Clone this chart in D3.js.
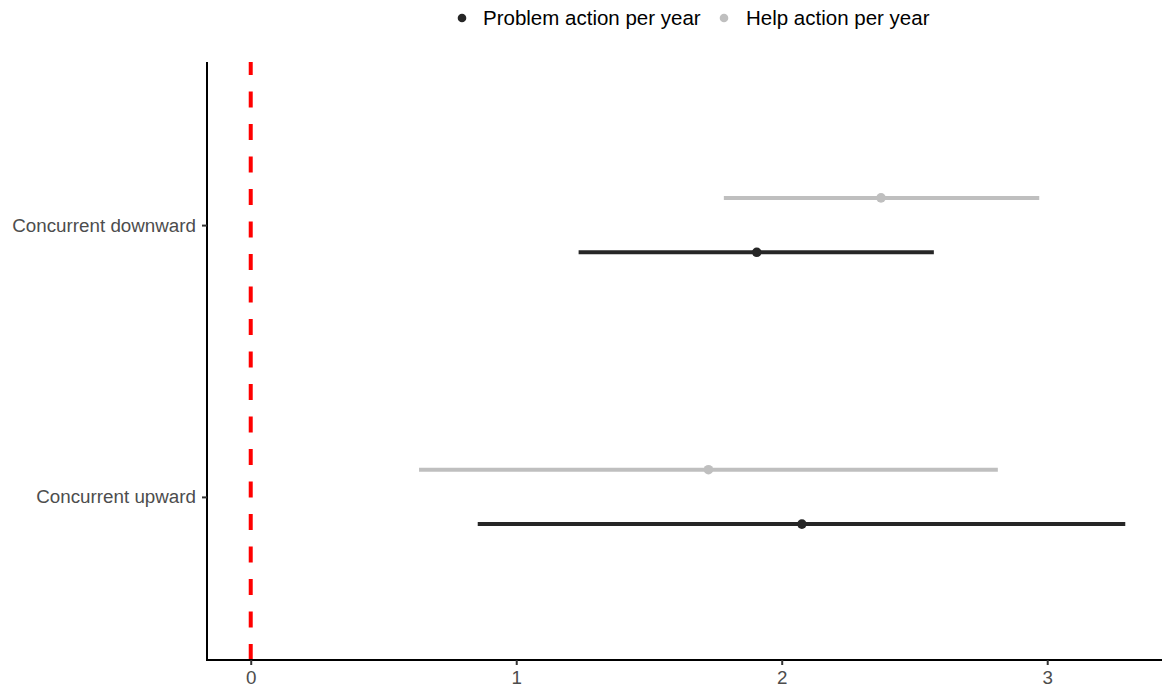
<!DOCTYPE html>
<html>
<head>
<meta charset="utf-8">
<script src="https://cdn.jsdelivr.net/npm/d3@7"></script>
<style>
  html, body { margin: 0; padding: 0; background: #fff; }
  svg { display: block; font-family: "Liberation Sans", Arial, sans-serif; }
</style>
</head>
<body>
<svg id="chart" width="1162" height="694"></svg>
<script>
// Effect categories (bottom to top as drawn)
const categories = ["Concurrent upward", "Concurrent downward"];
const seriesNames = ["Problem action per year", "Help action per year"];

// Point estimates and interval bounds, one array per series, aligned with categories
const problemEstimate = [2.076, 1.906];
const problemLower    = [0.855, 1.235];
const problemUpper    = [3.294, 2.573];

const helpEstimate = [1.724, 2.374];
const helpLower    = [0.634, 1.782];
const helpUpper    = [2.814, 2.970];

const xTicks = [0, 1, 2, 3];
const referenceLine = 0;

const seriesColors = { "Problem action per year": "#262626", "Help action per year": "#bfbfbf" };
// vertical dodge: help above, problem below
const dodge = { "Problem action per year": 0.1, "Help action per year": -0.1 };

const rows = [];
categories.forEach((c, i) => {
  rows.push({ cat: c, series: seriesNames[0], est: problemEstimate[i], lo: problemLower[i], hi: problemUpper[i] });
  rows.push({ cat: c, series: seriesNames[1], est: helpEstimate[i], lo: helpLower[i], hi: helpUpper[i] });
});

const svg = d3.select("#chart");
const panel = { left: 207, right: 1169, top: 62, bottom: 660 };

// x domain: data range including the reference line, expanded by 5%
const allX = rows.flatMap(r => [r.lo, r.hi]).concat([referenceLine]);
const xmin = d3.min(allX), xmax = d3.max(allX);
const pad = (xmax - xmin) * 0.05;
const x = d3.scaleLinear().domain([xmin - pad, xmax + pad]).range([panel.left, panel.right]);

const y = d3.scalePoint().domain(categories).range([panel.bottom, panel.top]).padding(0.6);
const step = y.step();
const yPos = r => y(r.cat) + dodge[r.series] * step;

// reference line, dash pattern running from the bottom of the panel
svg.append("line")
  .attr("x1", x(referenceLine)).attr("x2", x(referenceLine))
  .attr("y1", panel.bottom).attr("y2", panel.top)
  .attr("stroke", "#ff0000").attr("stroke-width", 4)
  .attr("stroke-dasharray", "16,16.5");

// intervals
svg.append("g").selectAll("line").data(rows).join("line")
  .attr("x1", d => x(d.lo)).attr("x2", d => x(d.hi))
  .attr("y1", yPos).attr("y2", yPos)
  .attr("stroke", d => seriesColors[d.series])
  .attr("stroke-width", 4);

// estimates
svg.append("g").selectAll("circle").data(rows).join("circle")
  .attr("cx", d => x(d.est)).attr("cy", yPos).attr("r", 4.8)
  .attr("fill", d => seriesColors[d.series]);

// x axis
const xAxis = svg.append("g")
  .attr("transform", `translate(0,${panel.bottom})`)
  .call(d3.axisBottom(x).tickValues(xTicks).tickFormat(d3.format("d")).tickSize(5).tickPadding(6));
xAxis.select(".domain").attr("d", `M${panel.left},0H1162`).attr("stroke", "#000").attr("stroke-width", 2);
xAxis.selectAll(".tick line").attr("stroke", "#333").attr("stroke-width", 2);
xAxis.selectAll(".tick text").attr("fill", "#4d4d4d").style("font-size", "18.8px");

// y axis
const yAxis = svg.append("g")
  .attr("transform", `translate(${panel.left},0)`)
  .call(d3.axisLeft(y).tickSize(5).tickPadding(6));
yAxis.select(".domain").attr("d", `M0,${panel.top}V${panel.bottom + 1}`).attr("stroke", "#000").attr("stroke-width", 2);
yAxis.selectAll(".tick line").attr("stroke", "#333").attr("stroke-width", 2);
yAxis.selectAll(".tick text").attr("fill", "#4d4d4d").style("font-size", "18.8px");

// legend
const legendItems = [
  { name: seriesNames[0], dotX: 462, textX: 483 },
  { name: seriesNames[1], dotX: 724, textX: 746 }
];
const legend = svg.append("g");
legendItems.forEach(it => {
  legend.append("circle").attr("cx", it.dotX).attr("cy", 18).attr("r", 4.3)
    .attr("fill", seriesColors[it.name]);
  legend.append("text").attr("x", it.textX).attr("y", 25)
    .attr("fill", "#000").style("font-size", "20.5px").text(it.name);
});
</script>
</body>
</html>
